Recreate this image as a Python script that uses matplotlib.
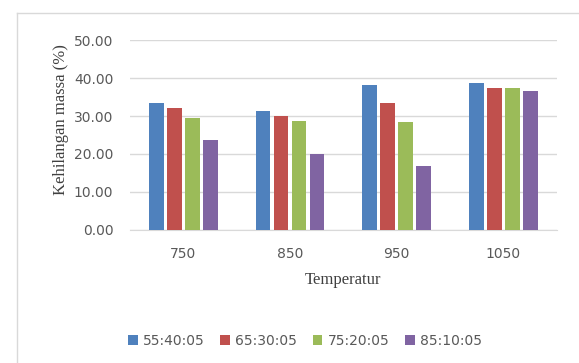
import matplotlib

matplotlib.use("Agg")
import matplotlib.pyplot as plt
import numpy as np

temperatures = ["750", "850", "950", "1050"]
series_labels = ["55:40:05", "65:30:05", "75:20:05", "85:10:05"]
s_55_40_05 = [33.5, 31.4, 38.2, 38.6]
s_65_30_05 = [32.2, 30.1, 33.5, 37.5]
s_75_20_05 = [29.6, 28.8, 28.3, 37.5]
s_85_10_05 = [23.7, 20.0, 16.9, 36.6]
y_ticks = [0, 10, 20, 30, 40, 50]

colors = ["#4F81BD", "#C0504D", "#9BBB59", "#8064A2"]
series = [s_55_40_05, s_65_30_05, s_75_20_05, s_85_10_05]

fig = plt.figure(figsize=(5.79, 3.63), dpi=100)
ax = fig.add_axes([0.2245, 0.3664, 0.737, 0.5234])

x = np.arange(len(temperatures))
step = 0.169
width = 0.136
for i, (vals, lab, col) in enumerate(zip(series, series_labels, colors)):
    ax.bar(x + (i - 1.5) * step, vals, width=width, color=col, label=lab, zorder=3)

ax.set_xlim(-0.5, len(temperatures) - 0.5)
ax.set_ylim(0, 50)
ax.set_yticks(y_ticks)
ax.set_yticklabels([f"{v:.2f}" for v in y_ticks])
ax.set_xticks(x)
ax.set_xticklabels(temperatures)
ax.yaxis.grid(True, color="#D9D9D9", linewidth=1.0, zorder=0)
for side in ["top", "right", "left"]:
    ax.spines[side].set_visible(False)
ax.spines["bottom"].set_color("#D9D9D9")
ax.tick_params(axis="both", length=0, labelsize=10, colors="#595959")
ax.tick_params(axis="y", pad=12)
ax.tick_params(axis="x", pad=12)

ax.set_ylabel("Kehilangan massa (%)", family="Liberation Serif", fontsize=12,
              color="#404040")
ax.yaxis.set_label_coords(-0.142, 0.58)
ax.set_xlabel("Temperatur", family="Liberation Serif", fontsize=12,
              color="#404040", labelpad=8)

ax.legend(loc="center", bbox_to_anchor=(0.41, -0.584), ncol=4, frameon=False,
          fontsize=10, handlelength=0.7, handleheight=0.7, handletextpad=0.4,
          columnspacing=1.1, labelcolor="#595959")

# chart area border
fig.add_artist(plt.Line2D([17 / 579, 17 / 579], [0, 1 - 13 / 363],
                          transform=fig.transFigure, color="#D9D9D9", linewidth=1))
fig.add_artist(plt.Line2D([17 / 579, 1], [1 - 13 / 363, 1 - 13 / 363],
                          transform=fig.transFigure, color="#D9D9D9", linewidth=1))

fig.savefig("out.png", dpi=100)
